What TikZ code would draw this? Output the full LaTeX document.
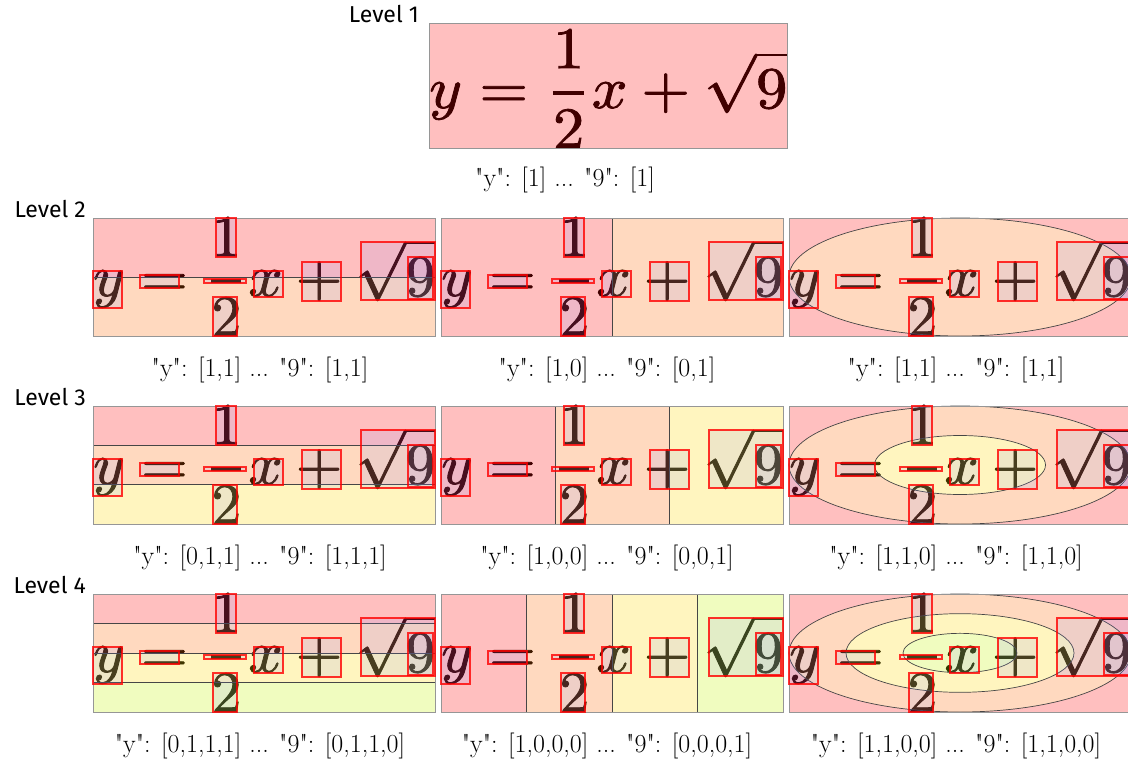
\documentclass[tikz,border=0pt]{standalone}
\usepackage{amsmath}
\usepackage{fontspec}
\usepackage{graphicx}
\newfontfamily\lvlfont{Fira Sans}
\definecolor{rgRed}{RGB}{255,0,0}
\definecolor{rgOrange}{RGB}{255,105,0}
\definecolor{rgYellow}{RGB}{255,216,0}
\definecolor{rgGreen}{RGB}{196,244,0}
\definecolor{divgray}{RGB}{70,70,70}
\definecolor{bordergray}{RGB}{150,150,150}
\definecolor{boxfill}{RGB}{128,128,255}
\newcommand\eqn{\special{pdf:literal direct 2 Tr 0.14 w}$\displaystyle y=\genfrac{}{}{0.6pt}{0}{1}{2}x+\sqrt{9}$\special{pdf:literal direct 0 Tr}}
\newcommand\qq{\textquotedbl}
\newcommand\gboxes{%
  \foreach \a/\b/\c/\d in {0/53/29/90, 47/57/86/70, 111/61/153/65, 123/0/143/39,
      120/79/144/118, 161/53/190/79, 209/44/248/83, 268/24/342/82, 315/39/340/81}
    {\draw[gbox] (\a,\b) rectangle (\c,\d);}%
}
\begin{document}
\begin{tikzpicture}[x=1pt,y=-1pt,
  region/.style={fill opacity=0.25},
  divider/.style={draw=divgray, line width=0.7pt},
  border/.style={draw=bordergray, line width=1pt},
  gbox/.style={draw=red, draw opacity=0.8, line width=1.1pt, fill=boxfill, fill opacity=0.12},
  caption/.style={font=\fontsize{26}{30}\selectfont, anchor=base, inner sep=0pt},
  lvl/.style={font=\lvlfont\fontsize{23}{26}\selectfont, anchor=base east, inner sep=0pt},
  eqnode/.style={inner sep=0pt, anchor=north west}]
\useasboundingbox (0,0) rectangle (1128,760);

% ---------- Level 1
\node[lvl] (lvl1) at (419,23) {Level 1};
\node[eqnode] (eq0) at (429,30) {\resizebox*{358pt}{118pt}{\eqn}};
\fill[rgRed,region] (429,24) rectangle (787,148);
\draw[border] (429,24) rectangle (787,148);
\node[caption] (cap0) at (565,186) {\qq y\qq: [1] ... \qq 9\qq: [1]};

% ---------- Level 2
\node[lvl] (lvl2) at (86,217) {Level 2};
\begin{scope}[shift={(93,218)}]
  \node[eqnode] (eq11) at (0,0) {\resizebox*{342pt}{118pt}{\eqn}};
  \fill[rgRed,region] (0,0) rectangle (342,59);
  \fill[rgOrange,region] (0,59) rectangle (342,118);
  \draw[divider] (0,59) -- (342,59);
  \draw[border] (0,0) rectangle (342,118);
  \gboxes
\end{scope}
\begin{scope}[shift={(441,218)}]
  \node[eqnode] (eq12) at (0,0) {\resizebox*{342pt}{118pt}{\eqn}};
  \fill[rgRed,region] (0,0) rectangle (171,118);
  \fill[rgOrange,region] (171,0) rectangle (342,118);
  \draw[divider] (171,0) -- (171,118);
  \draw[border] (0,0) rectangle (342,118);
  \gboxes
\end{scope}
\begin{scope}[shift={(789,218)}]
  \node[eqnode] (eq13) at (0,0) {\resizebox*{342pt}{118pt}{\eqn}};
  \fill[rgRed,region,even odd rule] (0,0) rectangle (342,118) (171,59) ellipse [x radius=171pt, y radius=59pt];
  \fill[rgOrange,region] (171,59) ellipse [x radius=171pt, y radius=59pt];
  \draw[divider] (171,59) ellipse [x radius=171pt, y radius=59pt];
  \draw[border] (0,0) rectangle (342,118);
  \gboxes
\end{scope}
\node[caption] (cap11) at (260,376) {\qq y\qq: [1,1] ... \qq 9\qq: [1,1]};
\node[caption] (cap12) at (607,376) {\qq y\qq: [1,0] ... \qq 9\qq: [0,1]};
\node[caption] (cap13) at (956,376) {\qq y\qq: [1,1] ... \qq 9\qq: [1,1]};

% ---------- Level 3
\node[lvl] (lvl3) at (86,405) {Level 3};
\begin{scope}[shift={(93,406)}]
  \node[eqnode] (eq21) at (0,0) {\resizebox*{342pt}{118pt}{\eqn}};
  \fill[rgRed,region] (0,0) rectangle (342,39.33);
  \fill[rgOrange,region] (0,39.33) rectangle (342,78.67);
  \fill[rgYellow,region] (0,78.67) rectangle (342,118);
  \draw[divider] (0,39.33) -- (342,39.33) (0,78.67) -- (342,78.67);
  \draw[border] (0,0) rectangle (342,118);
  \gboxes
\end{scope}
\begin{scope}[shift={(441,406)}]
  \node[eqnode] (eq22) at (0,0) {\resizebox*{342pt}{118pt}{\eqn}};
  \fill[rgRed,region] (0,0) rectangle (114,118);
  \fill[rgOrange,region] (114,0) rectangle (228,118);
  \fill[rgYellow,region] (228,0) rectangle (342,118);
  \draw[divider] (114,0) -- (114,118) (228,0) -- (228,118);
  \draw[border] (0,0) rectangle (342,118);
  \gboxes
\end{scope}
\begin{scope}[shift={(789,406)}]
  \node[eqnode] (eq23) at (0,0) {\resizebox*{342pt}{118pt}{\eqn}};
  \fill[rgRed,region,even odd rule] (0,0) rectangle (342,118) (171,59) ellipse [x radius=171pt, y radius=59pt];
  \fill[rgOrange,region,even odd rule] (171,59) ellipse [x radius=171pt, y radius=59pt] (171,59) ellipse [x radius=85.5pt, y radius=29.5pt];
  \fill[rgYellow,region] (171,59) ellipse [x radius=85.5pt, y radius=29.5pt];
  \draw[divider] (171,59) ellipse [x radius=171pt, y radius=59pt] (171,59) ellipse [x radius=85.5pt, y radius=29.5pt];
  \draw[border] (0,0) rectangle (342,118);
  \gboxes
\end{scope}
\node[caption] (cap21) at (260,564) {\qq y\qq: [0,1,1] ... \qq 9\qq: [1,1,1]};
\node[caption] (cap22) at (607,564) {\qq y\qq: [1,0,0] ... \qq 9\qq: [0,0,1]};
\node[caption] (cap23) at (956,564) {\qq y\qq: [1,1,0] ... \qq 9\qq: [1,1,0]};

% ---------- Level 4
\node[lvl] (lvl4) at (86,593) {Level 4};
\begin{scope}[shift={(93,594)}]
  \node[eqnode] (eq31) at (0,0) {\resizebox*{342pt}{118pt}{\eqn}};
  \fill[rgRed,region] (0,0) rectangle (342,29.5);
  \fill[rgOrange,region] (0,29.5) rectangle (342,59);
  \fill[rgYellow,region] (0,59) rectangle (342,88.5);
  \fill[rgGreen,region] (0,88.5) rectangle (342,118);
  \draw[divider] (0,29.5) -- (342,29.5) (0,59) -- (342,59) (0,88.5) -- (342,88.5);
  \draw[border] (0,0) rectangle (342,118);
  \gboxes
\end{scope}
\begin{scope}[shift={(441,594)}]
  \node[eqnode] (eq32) at (0,0) {\resizebox*{342pt}{118pt}{\eqn}};
  \fill[rgRed,region] (0,0) rectangle (85.5,118);
  \fill[rgOrange,region] (85.5,0) rectangle (171,118);
  \fill[rgYellow,region] (171,0) rectangle (256.5,118);
  \fill[rgGreen,region] (256.5,0) rectangle (342,118);
  \draw[divider] (85.5,0) -- (85.5,118) (171,0) -- (171,118) (256.5,0) -- (256.5,118);
  \draw[border] (0,0) rectangle (342,118);
  \gboxes
\end{scope}
\begin{scope}[shift={(789,594)}]
  \node[eqnode] (eq33) at (0,0) {\resizebox*{342pt}{118pt}{\eqn}};
  \fill[rgRed,region,even odd rule] (0,0) rectangle (342,118) (171,59) ellipse [x radius=171pt, y radius=59pt];
  \fill[rgOrange,region,even odd rule] (171,59) ellipse [x radius=171pt, y radius=59pt] (171,59) ellipse [x radius=114pt, y radius=39.33pt];
  \fill[rgYellow,region,even odd rule] (171,59) ellipse [x radius=114pt, y radius=39.33pt] (171,59) ellipse [x radius=57pt, y radius=19.67pt];
  \fill[rgGreen,region] (171,59) ellipse [x radius=57pt, y radius=19.67pt];
  \draw[divider] (171,59) ellipse [x radius=171pt, y radius=59pt] (171,59) ellipse [x radius=114pt, y radius=39.33pt] (171,59) ellipse [x radius=57pt, y radius=19.67pt];
  \draw[border] (0,0) rectangle (342,118);
  \gboxes
\end{scope}
\node[caption] (cap31) at (260,752) {\qq y\qq: [0,1,1,1] ... \qq 9\qq: [0,1,1,0]};
\node[caption] (cap32) at (607,752) {\qq y\qq: [1,0,0,0] ... \qq 9\qq: [0,0,0,1]};
\node[caption] (cap33) at (956,752) {\qq y\qq: [1,1,0,0] ... \qq 9\qq: [1,1,0,0]};
\end{tikzpicture}
\end{document}
